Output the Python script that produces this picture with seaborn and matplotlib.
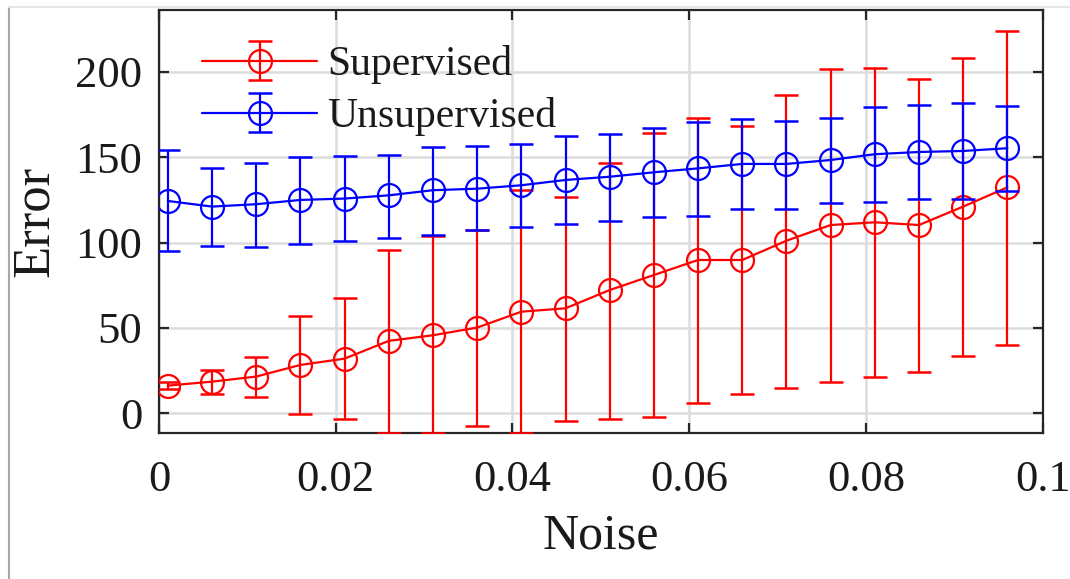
import numpy as np
import pandas as pd
import matplotlib
matplotlib.use("Agg")
import matplotlib.pyplot as plt
import seaborn as sns
from matplotlib.container import ErrorbarContainer
from matplotlib.legend_handler import HandlerErrorbar
from matplotlib.lines import Line2D

# ---- data ----
noise = [0.001, 0.006, 0.011, 0.016, 0.021, 0.026, 0.031, 0.036, 0.041, 0.046,
         0.051, 0.056, 0.061, 0.066, 0.071, 0.076, 0.081, 0.086, 0.091, 0.096]

sup_mean = [16.2, 18.5, 21.5, 28.3, 32.0, 42.4, 45.7, 50.2, 59.5, 61.5,
            72.2, 81.0, 89.8, 89.8, 101.1, 110.3, 111.9, 110.3, 121.1, 132.4]
sup_upper = [18.2, 25.4, 33.2, 57.2, 67.4, 95.9, 104.1, 107.4, 130.8, 126.9,
             146.7, 164.1, 172.8, 168.3, 186.3, 201.9, 202.3, 195.9, 208.0, 224.0]
sup_lower = [14.1, 11.5, 9.4, -0.4, -3.5, -11.6, -11.6, -7.4, -11.6, -4.3,
             -3.3, -2.2, 6.2, 11.1, 15.0, 18.3, 21.5, 24.4, 33.4, 40.2]

uns_mean = [124.4, 121.1, 122.5, 125.0, 125.8, 127.7, 130.7, 131.6, 133.6, 136.7,
            138.6, 141.2, 143.5, 146.1, 146.1, 148.4, 151.8, 153.1, 153.7, 155.3]
uns_upper = [154.1, 143.5, 146.5, 150.0, 151.0, 151.3, 156.2, 156.8, 157.6, 162.3,
             163.8, 167.3, 170.9, 172.4, 171.5, 173.0, 179.6, 180.8, 182.0, 180.3]
uns_lower = [95.1, 98.0, 97.6, 99.4, 100.8, 102.9, 104.3, 107.4, 109.2, 110.7,
             112.7, 114.8, 115.6, 119.5, 119.7, 123.2, 124.0, 125.4, 125.4, 130.4]

series_names = ["Supervised", "Unsupervised"]
series_colors = ["#ff0000", "#0000ff"]

x_ticks = [0, 0.02, 0.04, 0.06, 0.08, 0.1]
x_tick_labels = ["0", "0.02", "0.04", "0.06", "0.08", "0.1"]
y_ticks = [0, 50, 100, 150, 200]
y_tick_labels = ["0", "50", "100", "150", "200"]

# ---- style ----
sns.set_theme(style="ticks")
plt.rcParams["font.family"] = ["Liberation Serif", "DejaVu Serif"]

fig = plt.figure(figsize=(10.70, 5.79), dpi=100)
ax = fig.add_axes([0.1486, 0.2527, 0.8259, 0.7300])

df = pd.DataFrame({
    "Noise": noise * 2,
    "Error": sup_mean + uns_mean,
    "Method": [series_names[0]] * len(noise) + [series_names[1]] * len(noise),
})

means = [sup_mean, uns_mean]
uppers = [sup_upper, uns_upper]
lowers = [sup_lower, uns_lower]

handles = []
for name, col, m, up, lo in zip(series_names, series_colors, means, uppers, lowers):
    sub = df[df["Method"] == name]
    sns.lineplot(data=sub, x="Noise", y="Error", color=col, ax=ax,
                 marker="o", markersize=16.5, markerfacecolor="none",
                 markeredgecolor=col, markeredgewidth=1.6, linewidth=1.6,
                 legend=False, zorder=3)
    line = ax.get_lines()[-1]
    m_arr = np.array(m)
    yerr = [m_arr - np.array(lo), np.array(up) - m_arr]
    eb = ax.errorbar(noise, m, yerr=yerr, fmt="none", ecolor=col,
                     elinewidth=1.6, capsize=8.3, capthick=1.8, zorder=3)
    handles.append((eb, line))

ax.set_xlim(0, 0.1)
ax.set_ylim(-11.4, 236.3)
ax.set_xticks(x_ticks)
ax.set_xticklabels(x_tick_labels)
ax.set_yticks(y_ticks)
ax.set_yticklabels(y_tick_labels)

ax.grid(True, color="#dcdcdc", linewidth=1.8)
ax.set_axisbelow(True)
for sp in ax.spines.values():
    sp.set_color("#262626")
    sp.set_linewidth(1.6)
    sp.set_visible(True)
ax.tick_params(direction="in", length=7, width=1.6, color="#262626",
               top=True, right=True, labelsize=32, labelcolor="#1a1a1a")
ax.tick_params(axis="x", pad=20)
ax.tick_params(axis="y", pad=12)

ax.set_xlabel("Noise", fontsize=36, color="#1a1a1a", labelpad=9)
ax.set_ylabel("Error", fontsize=38, color="#1a1a1a", labelpad=12)

leg = ax.legend(handles, series_names, loc="upper left",
                bbox_to_anchor=(0.0487, 0.917), frameon=False, fontsize=30,
                handlelength=2.76, handletextpad=0.24, labelspacing=0.32,
                borderpad=0, borderaxespad=0,
                handler_map={ErrorbarContainer: HandlerErrorbar(yerr_size=0.47)})
for t in leg.get_texts():
    t.set_color("#1a1a1a")

# screenshot border lines seen in the reference
fig.add_artist(Line2D([9 / 1070, 9 / 1070], [0, 1 - 7 / 579],
                      transform=fig.transFigure, color="#a8a8a8", linewidth=1.5))
fig.add_artist(Line2D([9 / 1070, 1], [1 - 7 / 579, 1 - 7 / 579],
                      transform=fig.transFigure, color="#e6e6e6", linewidth=1.5))

fig.savefig("out.png", dpi=100, facecolor="white")
